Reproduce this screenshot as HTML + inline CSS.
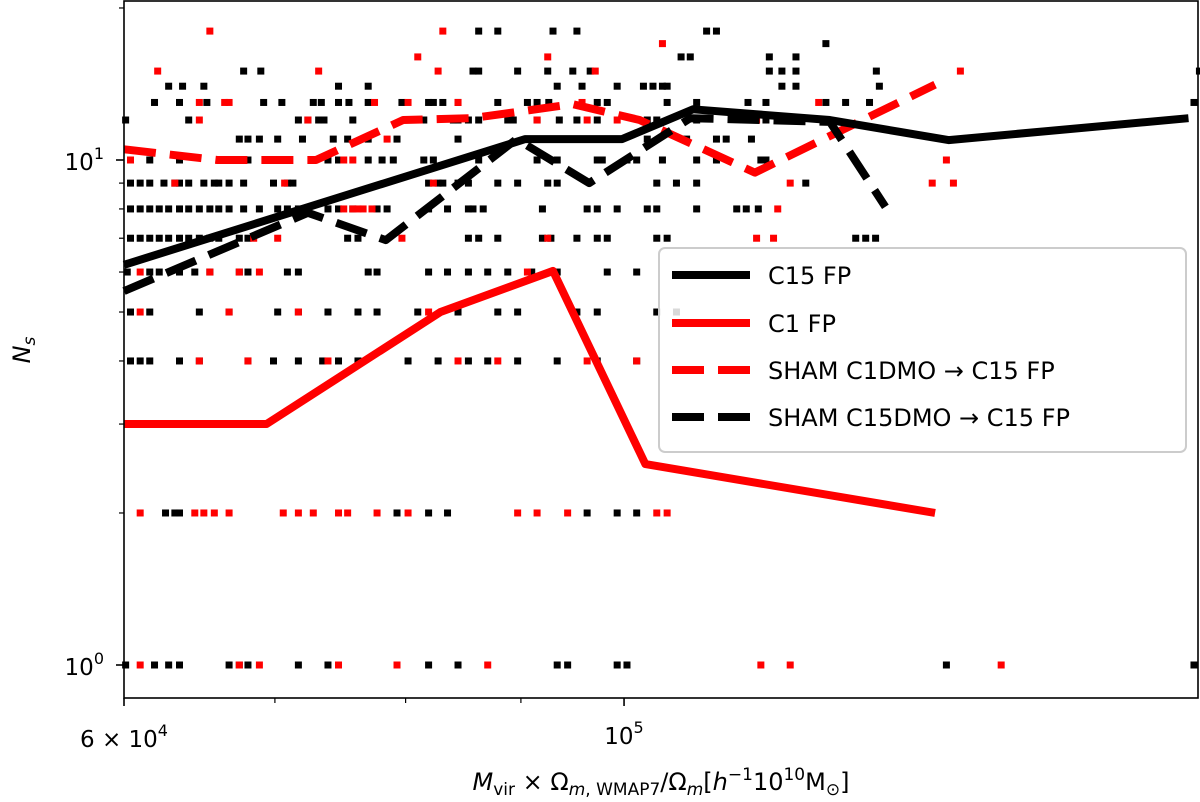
<!DOCTYPE html>
<html><head><meta charset="utf-8"><style>body{margin:0;background:#fff}svg{display:block}text{font-family:"DejaVu Sans","Liberation Sans",sans-serif}</style></head>
<body>
<svg id="chart" width="1200" height="802" xmlns="http://www.w3.org/2000/svg">
<g id="scatter"></g>
<g id="lines"></g>
<rect x="124" y="1" width="1074" height="697" fill="none" stroke="#000" stroke-width="1.6"/>
<g id="ticks"></g>
<text x="104" y="170" text-anchor="end" font-size="23">10<tspan dy="-11" font-size="16">1</tspan></text>
<text x="104" y="675" text-anchor="end" font-size="23">10<tspan dy="-11" font-size="16">0</tspan></text>
<text x="124" y="747" text-anchor="middle" font-size="23">6 × 10<tspan dy="-11" font-size="16">4</tspan></text>
<text x="624" y="744" text-anchor="middle" font-size="23">10<tspan dy="-11" font-size="16">5</tspan></text>
<text x="661" y="790" text-anchor="middle" font-size="24"><tspan font-style="italic">M</tspan><tspan font-size="17" dy="5">vir</tspan><tspan dy="-5"> × Ω</tspan><tspan font-size="17" dy="5"><tspan font-style="italic">m</tspan>, WMAP7</tspan><tspan dy="-5">/Ω</tspan><tspan font-size="17" dy="5" font-style="italic">m</tspan><tspan dy="-5">[</tspan><tspan font-style="italic">h</tspan><tspan dy="-10" font-size="17">−1</tspan><tspan dy="10">10</tspan><tspan dy="-10" font-size="17">10</tspan><tspan dy="10">M</tspan><tspan font-size="17" dy="5">⊙</tspan><tspan dy="-5">]</tspan></text>
<text transform="translate(30,350) rotate(-90)" text-anchor="middle" font-size="24"><tspan font-style="italic">N</tspan><tspan font-size="17" dy="5" font-style="italic">s</tspan></text>
<g>
<rect x="659" y="248" width="527" height="204" rx="6" fill="#fff" fill-opacity="0.85" stroke="#ccc" stroke-width="2"/>
<line x1="672" y1="275" x2="750" y2="275" stroke="#000" stroke-width="8"/>
<text x="768" y="284" font-size="24">C15 FP</text>
<line x1="672" y1="323" x2="750" y2="323" stroke="#f00" stroke-width="8"/>
<text x="768" y="332" font-size="24">C1 FP</text>
<line x1="672" y1="370" x2="750" y2="370" stroke="#f00" stroke-width="8" stroke-dasharray="32 14"/>
<text x="768" y="379" font-size="24">SHAM C1DMO → C15 FP</text>
<line x1="672" y1="417" x2="750" y2="417" stroke="#000" stroke-width="8" stroke-dasharray="32 14"/>
<text x="768" y="426" font-size="24">SHAM C15DMO → C15 FP</text>
</g>
</svg>
<script>
// x values in units of 1e4
const c15X=[6.0,9.04,9.98,10.73,12.34,13.93,17.8];
const c15Y=[6.2,11.0,11.0,12.6,12.0,10.95,12.1];
const c1X=[6.0,6.94,8.29,9.3,10.22,13.74];
const c1Y=[3,3,5,6.03,2.5,2.0];
const shamC1X=[6.0,6.6,7.3,7.98,8.56,9.49,10.16,11.43,13.74];
const shamC1Y=[10.5,10,10,12,12.1,12.9,12,9.44,14.1];
const shamC15X=[6.0,7.24,7.84,8.96,9.65,10.7,12.34,13.06];
const shamC15Y=[5.5,7.86,6.94,11.0,9.0,12.1,11.9,8.08];
const rowN=[1,2,3,4,5,6,7,8,9,10,11,12,13,14,15,16,17,18];
const blackRows=[
[6.01,6.19,6.28,6.35,6.68,6.75,6.81,7.17,7.39,8.19,8.44,9.34,9.44,9.93,10.03,13.9,17.9],
[6.26,6.32,6.35,7.93,8.19,8.35,9.63,9.93,10.13],
[6.16],
[6.04,6.10,6.16,6.35,6.48,6.81,6.99,7.17,7.35,7.47,7.62,8.02,8.27,8.53,8.70,8.97,9.34,9.73,10.13],
[6.04,6.16,6.48,6.68,7.02,7.17,7.39,7.62,7.77,8.10,8.44,8.79,8.97,9.53,9.73,10.34,10.55],
[6.02,6.16,6.22,6.35,6.45,6.55,6.75,6.81,7.09,7.17,7.70,7.77,8.19,8.35,8.53,8.70,8.88,9.10,9.34,9.83,10.13],
[6.04,6.10,6.16,6.22,6.28,6.35,6.41,6.48,6.55,6.61,6.75,6.81,7.54,7.62,8.53,8.62,8.79,9.20,9.28,9.53,9.73,9.83,10.34,10.45,12.67,12.80,12.93],
[6.04,6.10,6.16,6.22,6.28,6.35,6.41,6.48,6.55,6.61,6.68,6.78,6.89,7.02,7.09,7.17,7.39,7.47,7.58,7.77,7.85,8.19,8.35,8.53,8.57,8.66,9.20,9.63,9.73,9.93,10.24,10.34,10.77,11.22,11.33,11.47],
[6.04,6.10,6.16,6.25,6.32,6.35,6.41,6.51,6.58,6.61,6.68,6.78,6.99,7.09,7.13,8.19,8.27,8.31,8.44,8.53,8.79,8.97,9.25,9.34,10.34,10.55,10.77,12.04],
[6.16,6.35,6.75,6.81,6.95,7.02,7.09,7.39,7.47,7.70,7.81,7.90,8.15,8.23,8.62,9.15,9.34,9.73,9.78,10.03,10.13,10.40,10.77,10.99,11.50,11.56],
[6.75,6.81,6.89,7.02,7.20,7.43,7.54,7.70,7.93,8.44,9.15,10.24,10.66,10.99,11.10,11.39],
[6.01,6.41,7.17,7.24,7.32,7.36,7.58,8.15,8.40,8.44,8.53,8.62,8.88,8.93,9.15,9.36,9.53,9.73,10.24,10.34,10.77,11.56],
[6.19,6.35,6.53,6.92,7.05,7.28,7.34,7.47,7.55,7.70,7.97,8.19,8.23,8.31,8.44,8.79,9.06,9.15,9.26,9.73,9.83,10.45,10.77,11.35,11.56,12.29,12.54,12.85,17.9],
[6.28,6.37,6.51,7.47,7.70,9.34,9.58,9.93,10.20,10.30,10.40,10.45,11.75,11.92,12.98],
[6.78,6.90,8.57,8.62,8.97,9.25,9.49,9.66,11.60,11.75,11.92,12.94,18.0],
[10.60,10.70,11.60,11.92],
[12.29],
[8.62,8.79,9.30,9.53,10.88,10.99]];
const redRows=[
[6.10,6.75,6.89,7.47,7.93,8.70,11.50,11.85,14.7],
[6.10,6.45,6.51,6.58,6.68,7.06,7.17,7.28,7.47,7.54,7.77,8.02,8.97,9.15,9.44,10.34,10.45],
[6.42],
[6.48,6.81,7.39,8.44,8.79,9.63,10.13],
[6.10,6.68,7.17,8.19],
[6.10,6.55,6.75,6.89,9.06],
[6.85,7.02,7.97,9.25,11.45,11.65],
[7.51,7.58,7.62,7.66,7.73,11.70],
[6.32,7.07,8.23,11.85,13.7,14.0],
[6.04,7.51,7.58,13.9],
[7.85],
[6.48,7.24,8.10,9.15,9.63,9.93,11.45],
[6.48,6.65,6.68,7.75,8.02,8.44,9.58,12.20],
[],
[6.21,7.32,8.27,9.71,14.1],
[8.10,9.25],
[10.4],
[6.55,8.31]];
const X=v=>124+2254*Math.log10(v/6);
const Y=v=>665-505*Math.log10(v);
const NS='http://www.w3.org/2000/svg';
const sc=document.getElementById('scatter');
function pts(rows,color,name){
 rows.forEach((r,i)=>r.forEach(x=>{
  const e=document.createElementNS(NS,'rect');
  e.setAttribute('x',X(x)-3.5);e.setAttribute('y',Y(rowN[i])-3.5);
  e.setAttribute('width',7);e.setAttribute('height',7);e.setAttribute('fill',color);
  
  
  sc.appendChild(e);
 }));
}
pts(blackRows,'#000','c15-halo-point');
pts(redRows,'#f00','c1-halo-point');
const lg=document.getElementById('lines');
function line(xs,ys,color,dash,name){
 const p=document.createElementNS(NS,'polyline');
 p.setAttribute('points',xs.map((x,i)=>X(x)+','+Y(ys[i])).join(' '));
 p.setAttribute('fill','none');p.setAttribute('stroke',color);p.setAttribute('stroke-width',8);
 p.setAttribute('stroke-linejoin','round');
 if(dash)p.setAttribute('stroke-dasharray','32 14');
 
 
 lg.appendChild(p);
}
line(c1X,c1Y,'#f00',false,'c1-fp-line');
line(shamC1X,shamC1Y,'#f00',true,'sham-c1dmo-line');
line(c15X,c15Y,'#000',false,'c15-fp-line');
line(shamC15X,shamC15Y,'#000',true,'sham-c15dmo-line');
const tg=document.getElementById('ticks');
function tick(x1,y1,x2,y2,w){const l=document.createElementNS(NS,'line');
 l.setAttribute('x1',x1);l.setAttribute('y1',y1);l.setAttribute('x2',x2);l.setAttribute('y2',y2);
 l.setAttribute('stroke','#000');l.setAttribute('stroke-width',w);
 
 
 tg.appendChild(l);}
[1,10].forEach(v=>tick(116,Y(v),124,Y(v),1.6));
[2,3,4,5,6,7,8,9,20].forEach(v=>{if(Y(v)>0)tick(119,Y(v),124,Y(v),1.2);});
[6,10].forEach(v=>tick(X(v),698,X(v),706,1.6));
[7,8,9].forEach(v=>tick(X(v),698,X(v),703,1.2));
</script>
</body></html>
